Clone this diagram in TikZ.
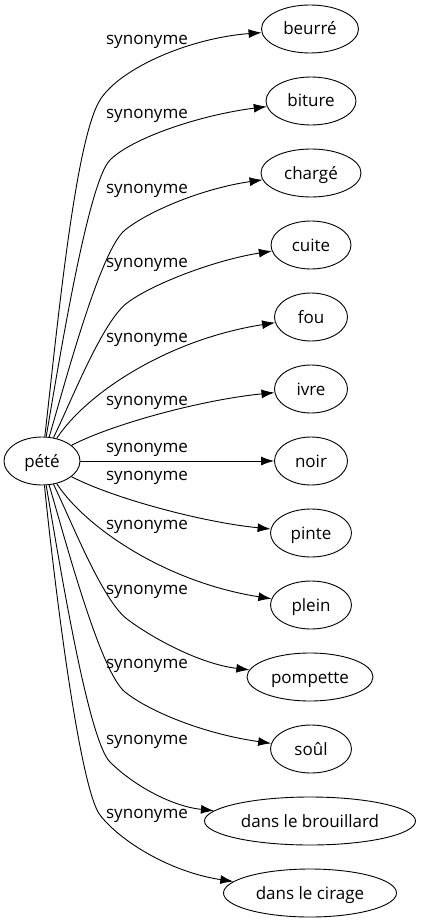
\documentclass[tikz,border=0pt]{standalone}
\usepackage{fontspec}
\setmainfont{Open Sans}
\usetikzlibrary{shapes.geometric,arrows.meta}

\begin{document}
\begin{tikzpicture}[x=1pt, y=-1pt, font=\fontsize{17}{20}\selectfont,
        word/.style={draw, ellipse, line width=0.9pt, inner sep=0pt, minimum height=48pt, text height=14pt, text depth=2pt},
        syn/.style={line width=0.9pt, -{Latex[length=13pt,width=9pt]}},
        lab/.style={inner sep=0pt}]
        \useasboundingbox (0,0) rectangle (421,923);
        \node[word, minimum width=76pt] (pete) at (42,461) {pété};
        \node[word, minimum width=97pt] (beurre) at (310,29) {beurré};
        \node[word, minimum width=90pt] (biture) at (311,101) {biture};
        \node[word, minimum width=100pt] (charge) at (311,173) {chargé};
        \node[word, minimum width=80pt] (cuite) at (311,245) {cuite};
        \node[word, minimum width=73pt] (fou) at (311,317) {fou};
        \node[word, minimum width=73pt] (ivre) at (311,389) {ivre};
        \node[word, minimum width=73pt] (noir) at (311,461) {noir};
        \node[word, minimum width=81pt] (pinte) at (311,533) {pinte};
        \node[word, minimum width=81pt] (plein) at (311,605) {plein};
        \node[word, minimum width=126pt] (pompette) at (310,677) {pompette};
        \node[word, minimum width=81pt] (soul) at (311,749) {soûl};
        \node[word, minimum width=211pt] (brouillard) at (310,821) {dans le brouillard};
        \node[word, minimum width=173pt] (cirage) at (310,893) {dans le cirage};
        % edges going up
        \draw[syn] (pete) .. controls (57,330) and (75,140) .. (100,100) .. controls (120,68) and (190,38) .. (beurre);
        \draw[syn] (pete) .. controls (59,362) and (88,182) .. (110,160) .. controls (132,138) and (200,115) .. (biture);
        \draw[syn] (pete) .. controls (64,387) and (100,250) .. (125,230) .. controls (150,210) and (205,188) .. (charge);
        \draw[syn] (pete) .. controls (71,402) and (102,322) .. (127,303) .. controls (152,284) and (215,260) .. (cuite);
        \draw[syn] (pete) .. controls (85,395) and (165,340) .. (fou);
        \draw[syn] (pete) .. controls (110,425) and (200,400) .. (ivre);
        \draw[syn] (pete) -- (noir);
        % edges going down
        \draw[syn] (pete) .. controls (110,497) and (200,522) .. (pinte);
        \draw[syn] (pete) .. controls (85,527) and (165,582) .. (plein);
        \draw[syn] (pete) .. controls (71,520) and (102,600) .. (127,619) .. controls (152,638) and (200,664) .. (pompette);
        \draw[syn] (pete) .. controls (64,535) and (100,672) .. (125,692) .. controls (150,712) and (205,734) .. (soul);
        \draw[syn] (pete) .. controls (59,560) and (88,740) .. (110,762) .. controls (132,784) and (170,806) .. (brouillard);
        \draw[syn] (pete) .. controls (55,590) and (80,789) .. (100,815) .. controls (120,841) and (170,872) .. (cirage);
        % labels
        \node[lab] (l1) at (147,42) {synonyme};
        \node[lab] (l2) at (147,116) {synonyme};
        \node[lab] (l3) at (147,191) {synonyme};
        \node[lab] (l4) at (147,265) {synonyme};
        \node[lab] (l5) at (147,340) {synonyme};
        \node[lab] (l6) at (147,403) {synonyme};
        \node[lab] (l7) at (147,450) {synonyme};
        \node[lab] (l8) at (147,478) {synonyme};
        \node[lab] (l9) at (147,527) {synonyme};
        \node[lab] (l10) at (147,592) {synonyme};
        \node[lab] (l11) at (147,666) {synonyme};
        \node[lab] (l12) at (147,742) {synonyme};
        \node[lab] (l13) at (147,816) {synonyme};
\end{tikzpicture}
\end{document}
